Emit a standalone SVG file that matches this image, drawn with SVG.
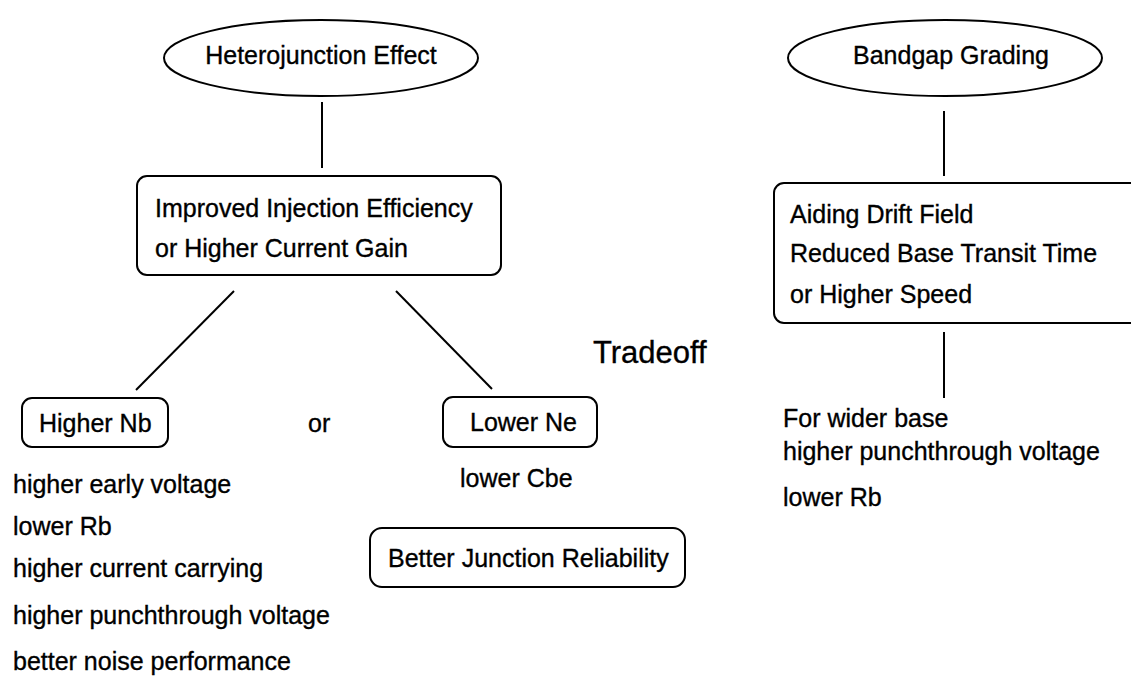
<svg xmlns="http://www.w3.org/2000/svg" width="1131" height="677" viewBox="0 0 1131 677">
<style>
text { font-family: "Liberation Sans", Arial, sans-serif; font-size: 25px; fill: #000; stroke: #000; stroke-width: 0.35; }
.shape { fill: #fff; stroke: #000; stroke-width: 2; }
.conn line { stroke: #000; stroke-width: 2; }
.mid { text-anchor: middle; }
</style>
<rect width="1131" height="677" fill="#fff"/>
<g class="conn" id="connectors">
<line x1="322" y1="102" x2="322" y2="168"/>
<line x1="234" y1="291" x2="136" y2="390"/>
<line x1="396" y1="291" x2="492" y2="389"/>
<line x1="944" y1="111" x2="944" y2="176"/>
<line x1="944" y1="332" x2="944" y2="398"/>
</g>
<g id="heterojunction">
<ellipse class="shape" cx="321" cy="58" rx="157" ry="38"/>
<text class="mid" x="321" y="64">Heterojunction Effect</text>
</g>
<g id="injection">
<rect class="shape" x="137" y="176" width="364" height="99" rx="10"/>
<text x="155" y="217">Improved Injection Efficiency</text>
<text x="155" y="257">or Higher Current Gain</text>
</g>
<g id="higher-nb">
<rect class="shape" x="22" y="398" width="146" height="49" rx="10"/>
<text x="39" y="432">Higher Nb</text>
</g>
<g id="or-label">
<text x="308" y="432">or</text>
</g>
<g id="lower-ne">
<rect class="shape" x="443" y="397" width="154" height="50" rx="10"/>
<text x="470" y="431">Lower Ne</text>
</g>
<g id="tradeoff">
<text x="593" y="363" style="font-size:31px">Tradeoff</text>
</g>
<g id="nb-effects">
<text x="13" y="493">higher early voltage</text>
<text x="13" y="535">lower Rb</text>
<text x="13" y="577">higher current carrying</text>
<text x="13" y="624">higher punchthrough voltage</text>
<text x="13" y="670">better noise performance</text>
</g>
<g id="ne-effects">
<text x="460" y="487">lower Cbe</text>
</g>
<g id="reliability">
<rect class="shape" x="370" y="528" width="315" height="59" rx="12"/>
<text x="388" y="567">Better Junction Reliability</text>
</g>
<g id="bandgap">
<ellipse class="shape" cx="945" cy="58" rx="157" ry="38"/>
<text class="mid" x="951" y="64">Bandgap Grading</text>
</g>
<g id="drift">
<rect class="shape" x="774" y="183" width="380" height="140" rx="10"/>
<text x="790" y="223">Aiding Drift Field</text>
<text x="790" y="262">Reduced Base Transit Time</text>
<text x="790" y="303">or Higher Speed</text>
</g>
<g id="wider-base">
<text x="783" y="427">For wider base</text>
<text x="783" y="460">higher punchthrough voltage</text>
<text x="783" y="506">lower Rb</text>
</g>
</svg>
